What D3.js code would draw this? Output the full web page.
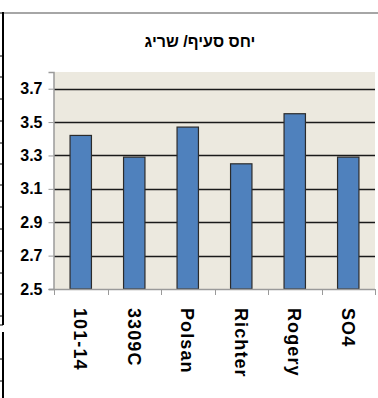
<!DOCTYPE html>
<html>
<head>
<meta charset="utf-8">
<script src="https://cdn.jsdelivr.net/npm/d3@7"></script>
<style>
  html, body { margin: 0; padding: 0; background: #ffffff; }
  svg { display: block; }
</style>
</head>
<body>
<svg id="chart" width="378" height="398"></svg>
<script>
// Rootstock ratio chart data
const categories = ["101-14", "3309C", "Polsan", "Richter", "Rogery", "SO4"];
const values = [3.42, 3.29, 3.47, 3.25, 3.55, 3.29];
const yTicks = [2.5, 2.7, 2.9, 3.1, 3.3, 3.5, 3.7];
const title = "יחס סעיף/ שריג";

const svg = d3.select("#chart");
const W = 378, H = 398;
const plot = { left: 54, right: 375, top: 72, bottom: 289 };
const FONT = "Arial, 'Liberation Sans', sans-serif";

// Frame lines on the page edge
svg.append("line")
  .attr("x1", 4).attr("x2", W).attr("y1", 13).attr("y2", 13)
  .attr("stroke", "#a6a6a6").attr("stroke-width", 2);
svg.append("line")
  .attr("x1", 3).attr("x2", 3).attr("y1", 12).attr("y2", 325)
  .attr("stroke", "#000").attr("stroke-width", 2);
svg.append("line")
  .attr("x1", 3).attr("x2", 3).attr("y1", 332).attr("y2", H)
  .attr("stroke", "#000").attr("stroke-width", 2);
const edgeTicks = [13, 56, 77, 99, 121, 143, 164, 185, 207, 229, 251, 273, 294, 316, 325, 359, 381];
svg.selectAll("line.edge").data(edgeTicks).enter().append("line")
  .attr("class", "edge")
  .attr("x1", 0).attr("x2", 3).attr("y1", d => d).attr("y2", d => d)
  .attr("stroke", "#000").attr("stroke-width", 1);

// Title
svg.append("text")
  .attr("x", 200).attr("y", 47)
  .attr("text-anchor", "middle")
  .attr("font-family", FONT)
  .attr("font-weight", "bold")
  .attr("font-size", 16)
  .attr("direction", "rtl")
  .style("unicode-bidi", "plaintext")
  .text(title);

// Scales
const x = d3.scaleBand().domain(categories).range([plot.left, plot.right]).paddingInner(0.6).paddingOuter(0.3);
const y = d3.scaleLinear().domain([2.5, 3.8]).range([plot.bottom, plot.top]);

// Plot background
svg.append("rect")
  .attr("x", plot.left).attr("y", plot.top)
  .attr("width", plot.right - plot.left).attr("height", plot.bottom - plot.top)
  .attr("fill", "#ece9df");

// Gridlines
svg.selectAll("line.grid").data(yTicks.filter(t => t > 2.5)).enter().append("line")
  .attr("class", "grid")
  .attr("x1", plot.left).attr("x2", plot.right)
  .attr("y1", d => Math.round(y(d)) + 0.5).attr("y2", d => Math.round(y(d)) + 0.5)
  .attr("stroke", "#1a1a1a").attr("stroke-width", 1.5);

// Bars
svg.selectAll("rect.bar").data(values).enter().append("rect")
  .attr("class", "bar")
  .attr("x", (d, i) => x(categories[i]))
  .attr("y", d => y(d))
  .attr("width", x.bandwidth())
  .attr("height", d => plot.bottom - y(d))
  .attr("fill", "#4f81bd")
  .attr("stroke", "#2b2b2b").attr("stroke-width", 1.2);

// Y axis
const yAxis = d3.axisLeft(y).tickValues(yTicks).tickSize(5).tickFormat(d3.format(".1f"));
const gy = svg.append("g").attr("transform", `translate(${plot.left - 0.5},0)`).call(yAxis);
gy.select(".domain").attr("stroke", "#9a9a9a").attr("stroke-width", 1.5);
gy.selectAll(".tick line").attr("stroke", "#9a9a9a");
gy.selectAll(".tick text")
  .attr("x", -11)
  .attr("font-family", FONT)
  .attr("font-weight", "bold")
  .attr("font-size", 16)
  .attr("fill", "#000");

// X axis: ticks at category boundaries
const bounds = d3.range(categories.length + 1).map(i => plot.left + i * (plot.right - plot.left) / categories.length);
svg.append("line")
  .attr("x1", plot.left - 5).attr("x2", plot.right)
  .attr("y1", plot.bottom + 0.5).attr("y2", plot.bottom + 0.5)
  .attr("stroke", "#9a9a9a").attr("stroke-width", 1.5);
svg.selectAll("line.xtick").data(bounds).enter().append("line")
  .attr("class", "xtick")
  .attr("x1", d => Math.round(d) + 0.5).attr("x2", d => Math.round(d) + 0.5)
  .attr("y1", plot.bottom).attr("y2", plot.bottom + 6)
  .attr("stroke", "#9a9a9a").attr("stroke-width", 1);

// Category labels, rotated to read top-to-bottom
svg.selectAll("text.xlab").data(categories).enter().append("text")
  .attr("class", "xlab")
  .attr("transform", d => `translate(${x(d) + x.bandwidth() / 2 - 6.5},${plot.bottom + 19}) rotate(90)`)
  .attr("text-anchor", "start")
  .attr("font-family", FONT)
  .attr("font-weight", "bold")
  .attr("font-size", 18)
  .attr("letter-spacing", 1.1)
  .text(d => d);
</script>
</body>
</html>
